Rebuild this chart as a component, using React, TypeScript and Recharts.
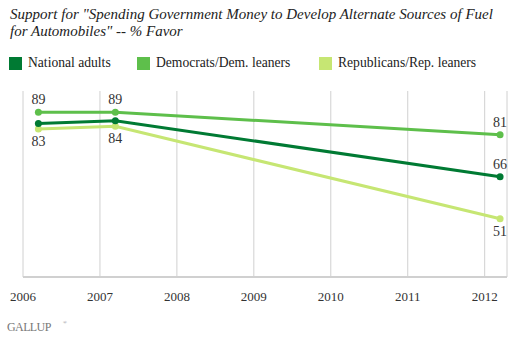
import React from "react";
import { LineChart, Line, XAxis, YAxis, CartesianGrid, LabelList } from "recharts";

const years = [2006.2, 2007.2, 2012.2];
const nationalAdults = [85, 86, 66];
const democrats = [89, 89, 81];
const republicans = [83, 84, 51];
const xTicks = [2006, 2007, 2008, 2009, 2010, 2011, 2012];
const titleLines = [
  'Support for "Spending Government Money to Develop Alternate Sources of Fuel',
  'for Automobiles" -- % Favor',
];
const seriesNames = ["National adults", "Democrats/Dem. leaners", "Republicans/Rep. leaners"];
const nationalLabelShown = [false, false, true];

const COLORS = ["#007a33", "#5ebf4b", "#c6e673"];
const SERIF = "Liberation Serif";

const data = years.map((x, i) => ({
  x,
  nat: nationalAdults[i],
  dem: democrats[i],
  rep: republicans[i],
}));

const makeLabel = (place: "above" | "below", shown?: boolean[]) => (props: any) => {
  const { x, y, value, index } = props;
  if (shown && !shown[index]) return null;
  const dy = place === "above" ? -8 : 17;
  return (
    <text
      x={x}
      y={y + dy}
      textAnchor="middle"
      style={{ fontFamily: SERIF }}
      fontSize={14}
      fill="#333"
    >
      {value}
    </text>
  );
};

const legendX = [9, 137, 319];

export default function App() {
  return (
    <div style={{ position: "absolute", left: 0, top: 0, width: 514, height: 339, background: "#fff", fontFamily: SERIF }}>
      <LineChart
        width={514}
        height={339}
        data={data}
        margin={{ top: 91, right: 7, bottom: 32, left: 23 }}
        style={{ fontFamily: SERIF }}
      >
        <CartesianGrid horizontal={false} stroke="#d0d0d0" strokeWidth={1} />
        <XAxis
          dataKey="x"
          type="number"
          domain={[2006, 2012.29]}
          ticks={xTicks}
          height={30}
          tickLine={false}
          tickSize={0}
          tickMargin={15}
          axisLine={{ stroke: "#d0d0d0", strokeWidth: 2 }}
          tick={{ fontSize: 13, fill: "#333", style: { fontFamily: SERIF } }}
          allowDataOverflow
        />
        <YAxis hide domain={[30.2, 96.6]} allowDataOverflow />
        <Line
          dataKey="dem"
          stroke={COLORS[1]}
          strokeWidth={3}
          dot={{ r: 3.5, fill: COLORS[1], stroke: COLORS[1], strokeWidth: 0 }}
          isAnimationActive={false}
        >
          <LabelList dataKey="dem" content={makeLabel("above")} />
        </Line>
        <Line
          dataKey="rep"
          stroke={COLORS[2]}
          strokeWidth={3}
          dot={{ r: 3.5, fill: COLORS[2], stroke: COLORS[2], strokeWidth: 0 }}
          isAnimationActive={false}
        >
          <LabelList dataKey="rep" content={makeLabel("below")} />
        </Line>
        <Line
          dataKey="nat"
          stroke={COLORS[0]}
          strokeWidth={3}
          dot={{ r: 3.5, fill: COLORS[0], stroke: COLORS[0], strokeWidth: 0 }}
          isAnimationActive={false}
        >
          <LabelList dataKey="nat" content={makeLabel("above", nationalLabelShown)} />
        </Line>
      </LineChart>
      <svg
        width={514}
        height={339}
        style={{ position: "absolute", left: 0, top: 0, pointerEvents: "none", fontFamily: SERIF }}
      >
        {titleLines.map((t, i) => (
          <text
            key={i}
            x={10}
            y={19 + i * 17}
            fontStyle="italic"
            fontSize={15}
            fill="#222"
          >
            {t}
          </text>
        ))}
        {seriesNames.map((n, i) => (
          <g key={n}>
            <rect x={legendX[i]} y={57} width={13} height={13} fill={COLORS[i]} />
            <text x={legendX[i] + 19} y={67} fontSize={13.6} fill="#222">
              {n}
            </text>
          </g>
        ))}
        <text x={7} y={331} fontSize={12} fill="#777" letterSpacing={-0.6}>
          GALLUP
        </text>
        <text x={63} y={324} fontSize={5} fill="#777">
          ®
        </text>
      </svg>
    </div>
  );
}
